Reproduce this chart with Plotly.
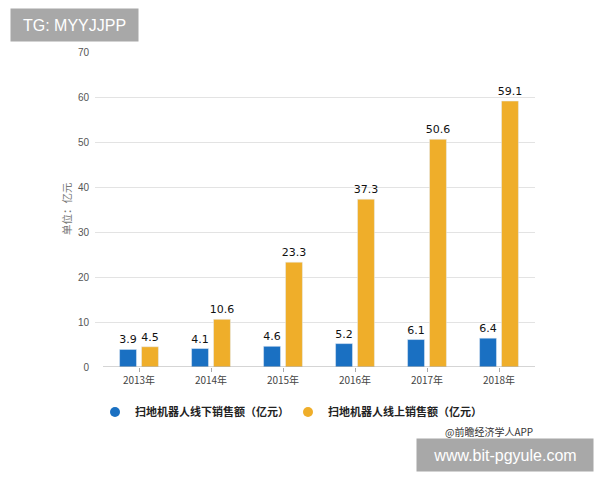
import plotly.graph_objects as go

years = ["2013年", "2014年", "2015年", "2016年", "2017年", "2018年"]
offline = [3.9, 4.1, 4.6, 5.2, 6.1, 6.4]
online = [4.5, 10.6, 23.3, 37.3, 50.6, 59.1]
y_ticks = [0, 10, 20, 30, 40, 50, 60, 70]
name_off = "扫地机器人线下销售额（亿元）"
name_on = "扫地机器人线上销售额（亿元）"

BLUE = "#1a70c2"
ORANGE = "#efae2a"
CJK = "Noto Sans CJK SC"

L, R, T, B = 95, 65, 52, 113
PW, PH = 600 - L - R, 480 - T - B
n = len(years)
extra = (103 - L) / ((535 - 103) / n)


def px(x):
    return (x - L) / PW


def py(y):
    return (480 - B - y) / PH


label_font = dict(family="DejaVu Sans", size=11, color="#111111")
fig = go.Figure()
fig.add_trace(go.Bar(x=years, y=offline, marker_color=BLUE, showlegend=False,
                     text=offline, texttemplate="%{text:.1f}", textposition="outside",
                     cliponaxis=False, constraintext="none", textfont=label_font))
fig.add_trace(go.Bar(x=years, y=online, marker_color=ORANGE, showlegend=False,
                     text=online, texttemplate="%{text:.1f}", textposition="outside",
                     cliponaxis=False, constraintext="none", textfont=label_font))
# legend entries with circle markers
fig.add_trace(go.Scatter(x=[None], y=[None], mode="markers", name="<b>" + name_off + "</b>",
                         legend="legend",
                         marker=dict(color=BLUE, size=10, symbol="circle")))
fig.add_trace(go.Scatter(x=[None], y=[None], mode="markers", name="<b>" + name_on + "</b>",
                         legend="legend2",
                         marker=dict(color=ORANGE, size=10, symbol="circle")))

leg_common = dict(orientation="h", y=py(412), xanchor="left", yanchor="middle",
                  font=dict(family=CJK, size=11, color="#222222"),
                  itemwidth=30, bgcolor="rgba(0,0,0,0)")

fig.update_layout(
    width=600, height=480,
    margin=dict(l=L, r=R, t=T, b=B),
    paper_bgcolor="white", plot_bgcolor="white",
    barmode="group", bargap=0.39, bargroupgap=0.23,
    font=dict(family=CJK, size=10, color="#555555"),
    showlegend=True,
    uniformtext=dict(mode=False),
    legend=dict(x=px(95), **leg_common),
    legend2=dict(x=px(288), **leg_common),
    xaxis=dict(type="category", showgrid=False, showline=False,
               range=[-0.5 - extra, n - 0.5],
               ticks="outside", ticklen=4, tickcolor="#aaaaaa",
               tickfont=dict(family=CJK, size=10, color="#444444")),
    yaxis=dict(range=[0, 70], tickvals=y_ticks, showgrid=True, gridcolor="#e3e3e3",
               zeroline=False, showline=False, ticks="", ticklabelstandoff=5,
               tickfont=dict(family="Liberation Sans", size=10, color="#555555")),
)

fig.add_shape(type="line", xref="x", yref="y", x0=-0.5, x1=n - 0.5, y0=0, y1=0,
              line=dict(color="#aaaaaa", width=1), layer="above")

fig.add_annotation(text="单位：亿元", xref="paper", yref="paper", x=px(66), y=py(209),
                   xanchor="center", yanchor="middle",
                   textangle=-90, showarrow=False,
                   font=dict(family=CJK, size=10.5, color="#777777"))
fig.add_annotation(text="@前瞻经济学人APP", xref="paper", yref="paper", x=px(443), y=py(431),
                   xanchor="left", yanchor="middle", showarrow=False,
                   font=dict(family=CJK, size=10, color="#333333"))
fig.add_annotation(text="TG: MYYJJPP", xref="paper", yref="paper", x=px(10), y=py(25),
                   xanchor="left", yanchor="middle", showarrow=False,
                   width=125, height=30, bgcolor="#a8a8a8",
                   font=dict(family="Liberation Sans", size=16, color="white"))
fig.add_annotation(text="www.bit-pgyule.com", xref="paper", yref="paper", x=px(416), y=py(455),
                   xanchor="left", yanchor="middle", showarrow=False,
                   width=174, height=30, bgcolor="#a8a8a8",
                   font=dict(family="Liberation Sans", size=16, color="white"))

fig.write_html("out.html")
